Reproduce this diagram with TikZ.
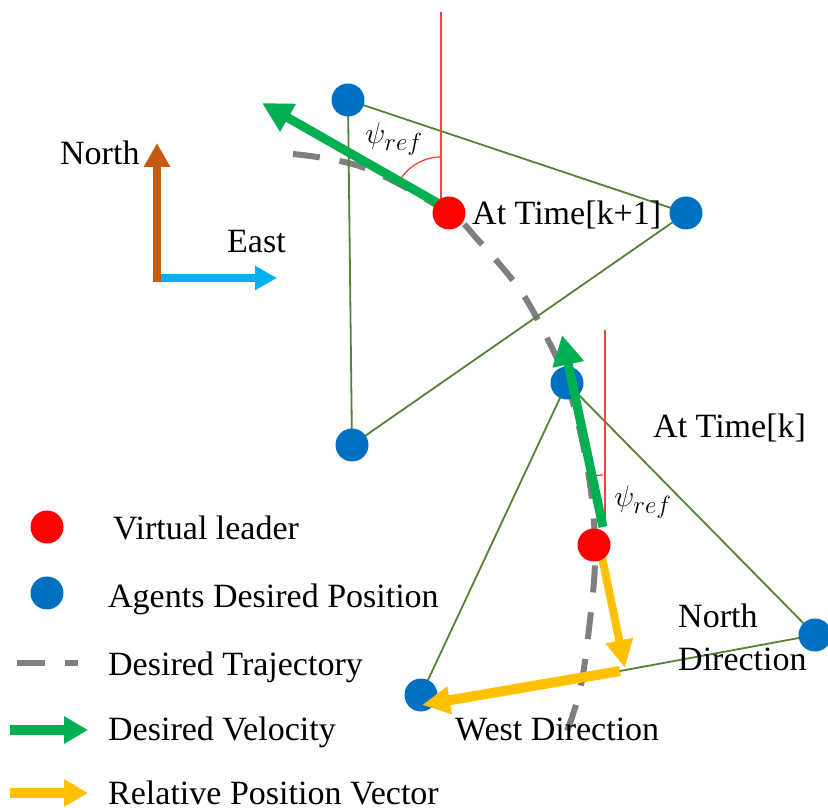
\documentclass[tikz,border=0pt]{standalone}
\usepackage{fontspec}
\setmainfont{Liberation Serif}
\usetikzlibrary{arrows.meta,calc}

\definecolor{agentblue}{HTML}{0070C0}
\definecolor{edgegreen}{HTML}{548235}
\definecolor{velgreen}{HTML}{00B050}
\definecolor{posyellow}{HTML}{FFC000}
\definecolor{trajgray}{HTML}{7F7F7F}
\definecolor{northbrown}{HTML}{C55A11}
\definecolor{eastblue}{HTML}{00B0F0}
\definecolor{headred}{HTML}{FF4040}

\tikzset{
  agent/.style={circle, fill=agentblue, minimum size=33pt, inner sep=0pt},
  leader/.style={circle, fill=red, minimum size=33pt, inner sep=0pt},
  edge/.style={draw=edgegreen, line width=1.8pt},
  velocity/.style={draw=velgreen, line width=9pt, -{Triangle[length=30pt,width=30pt]}},
  relpos/.style={draw=posyellow, line width=8pt, -{Triangle[length=28pt,width=26pt]}},
  heading/.style={draw=headred, line width=1.3pt},
  traj/.style={draw=trajgray, line width=6pt, dash pattern=on 27pt off 20pt},
  txt/.style={font=\fontsize{34}{42}\selectfont, inner sep=0pt, anchor=base west},
  angle/.style={font=\fontsize{24.88}{30}\selectfont, inner sep=0pt, scale=1.2},
}

\begin{document}
\begin{tikzpicture}[x=1pt, y=1pt]
  \useasboundingbox (0,0) rectangle (828,807);

  % desired trajectory
  \draw[traj] plot[smooth, tension=0.6] coordinates {
    (293,653) (365,639) (449,594) (478,567) (520,517) (548,467) (567,424)
    (582,367) (592,307) (595,247) (590,187) (580,117) (562,62)};

  % formation at time k+1
  \coordinate (a1) at (348,707);
  \coordinate (a2) at (686,594);
  \coordinate (a3) at (352,362);
  \coordinate (o1) at (441,602);
  \coordinate (v1) at (262,704);
  \coordinate (n1) at (441,795);
  \draw[edge] (a1) -- (a2) -- (a3) -- cycle;
  \draw[heading] (o1) -- (n1);
  \draw[heading] ($(o1)+(0,48)$) arc[start angle=90, end angle=150, radius=48];
  \draw[velocity] (o1) -- (v1);
  \node[agent] (A1) at (a1) {};
  \node[agent] (A2) at (a2) {};
  \node[agent] (A3) at (a3) {};
  \node[leader] (L1) at (449,594) {};
  \node[angle] (psi1) at (394,668) {$\psi_{ref}$};
  \node[txt] (t1) at (472,582) {At Time[k+1]};

  % formation at time k
  \coordinate (b1) at (567,424);
  \coordinate (b2) at (815,172);
  \coordinate (b3) at (421,112);
  \coordinate (o2) at (603,280);
  \coordinate (v2) at (562,472);
  \coordinate (n2) at (605,477);
  \coordinate (p1) at (625,139);
  \coordinate (j) at (620,136);
  \coordinate (p2) at (422,102);
  \draw[edge] (b3) -- (b1) -- (b2) -- (j);
  \draw[heading] (605,282) -- (n2);
  \draw[heading] ($(o2)+(0,52)$) arc[start angle=90, end angle=101, radius=52];
  \node[agent] (B1) at (b1) {};
  \node[agent] (B2) at (b2) {};
  \node[agent] (B3) at (b3) {};
  \draw[velocity] (o2) -- (v2);
  \draw[relpos] (602,250) -- (p1);
  \draw[relpos, line width=10pt] (j) -- (p2);
  \node[leader] (L2) at (594,262) {};
  \node[angle] (psi2) at (643,305) {$\psi_{ref}$};
  \node[txt] (t2) at (653,369) {At Time[k]};
  \node[txt] (nd) at (678,179) {North};
  \node[txt] (nd2) at (678,137) {Direction};
  \node[txt] (wd) at (455,67) {West Direction};

  % north / east axes
  \coordinate (ax) at (157,525);
  \coordinate (ay) at (161,529);
  \coordinate (north) at (157,664);
  \coordinate (east) at (277,529);
  \draw[draw=northbrown, line width=8pt, -{Triangle[length=24pt,width=25pt]}] (ax) -- (north);
  \draw[draw=eastblue, line width=8pt, -{Triangle[length=22pt,width=23pt]}] (ay) -- (east);
  \node[txt] (nlab) at (60,642) {North};
  \node[txt] (elab) at (227,554) {East};

  % legend
  \node[leader] (kl) at (47,280) {};
  \node[agent] (ka) at (47,214) {};
  \coordinate (kt0) at (17,144);
  \coordinate (kt1) at (78,144);
  \draw[traj, dash pattern=on 28pt off 20pt] (kt0) -- (kt1);
  \coordinate (kv0) at (10,77);
  \coordinate (kv1) at (88,77);
  \draw[velocity, line width=10pt, -{Triangle[length=24pt,width=26pt]}] (kv0) -- (kv1);
  \coordinate (kp0) at (10,14);
  \coordinate (kp1) at (88,14);
  \draw[relpos, line width=10pt, -{Triangle[length=24pt,width=26pt]}] (kp0) -- (kp1);
  \node[txt] at (113,267) {Virtual leader};
  \node[txt] at (108,200) {Agents Desired Position};
  \node[txt] at (108,132) {Desired Trajectory};
  \node[txt] at (108,67) {Desired Velocity};
  \node[txt] at (108,3) {Relative Position Vector};
\end{tikzpicture}
\end{document}
